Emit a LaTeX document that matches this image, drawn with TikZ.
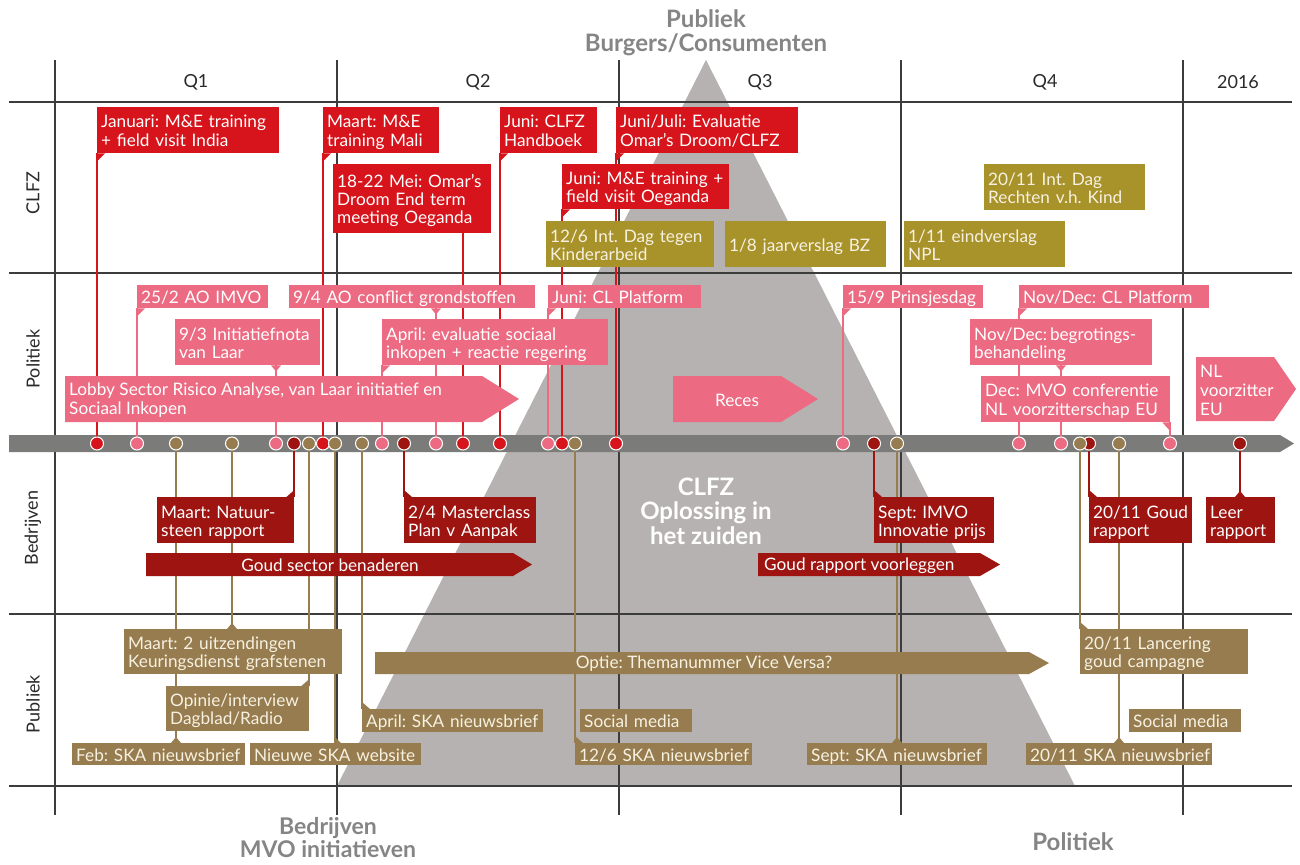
\documentclass[tikz,border=0pt]{standalone}
\usepackage{fontspec}
\setmainfont{Lato}
\usetikzlibrary{calc}
\frenchspacing
\definecolor{cR}{HTML}{D7141B}
\definecolor{cG}{HTML}{A8922A}
\definecolor{cP}{HTML}{EC6A82}
\definecolor{cD}{HTML}{9E1410}
\definecolor{cB}{HTML}{967C4E}
\definecolor{cBar}{HTML}{7B7B79}
\definecolor{cTri}{HTML}{B6B2B1}
\definecolor{cGrid}{HTML}{3C3C3C}
\definecolor{cTitle}{HTML}{858585}
\definecolor{cTxt}{HTML}{2A2A2A}
\definecolor{cCream}{HTML}{F7F1E2}
\pgfdeclarelayer{tri}\pgfdeclarelayer{gridl}\pgfdeclarelayer{conn}
\pgfsetlayers{tri,gridl,conn,main}
\tikzset{
 box/.style={anchor=north west, inner xsep=4pt, inner ysep=0pt, align=left, font=\fontsize{17.2}{18}\selectfont},
 fR/.style={fill=cR, text=white},
 fG/.style={fill=cG, text=cCream},
 fP/.style={fill=cP, text=white},
 fD/.style={fill=cD, text=white},
 fB/.style={fill=cB, text=cCream},
 mk/.style={circle, minimum size=13pt, inner sep=0pt, draw=white, line width=1pt},
 link/.style={line width=1.3pt},
 gridline/.style={cGrid, line width=1.3pt},
 head/.style={text=cTxt, font=\fontsize{18}{20}\selectfont},
 title/.style={text=cTitle, font=\bfseries\fontsize{24}{24}\selectfont, align=center, inner sep=0pt},
 arrowtxt/.style={font=\fontsize{17.2}{19}\selectfont, align=left, inner sep=0pt},
}
\newcommand\bx[7]{\pgfmathsetmacro\mytw{#5-8}\node[box, #2, minimum width=#5pt, minimum height=#6pt, text width=\mytw pt] (#1) at (#3,#4) {\raisebox{-3.2pt}[\height][\depth]{\begin{tabular}{@{}l@{}}#7\end{tabular}}};}
\begin{document}
\begin{tikzpicture}[x=1pt,y=-1pt]
\useasboundingbox (0,0) rectangle (1300,864);
\begin{pgfonlayer}{tri}
\fill[white] (0,0) rectangle (1300,864);
\fill[cTri] (706,60) -- (1075,786) -- (337,786) -- cycle;
\end{pgfonlayer}
\begin{pgfonlayer}{gridl}
\foreach \x in {55,337,619,901,1183} \draw[gridline] (\x,60) -- (\x,815);
\foreach \y in {102,273,614,786} \draw[gridline] (9,\y) -- (1292,\y);
\end{pgfonlayer}

% titles and headers
\node[title] (tTop) at (706,33) {Publiek\\Burgers/Consumenten};
\node[title, font=\bfseries\fontsize{23}{23}\selectfont] (tBed) at (328,838) {Bedrijven\\MVO initiatieven};
\node[title] (tPol) at (1073,842) {Politiek};
\node[title, text=white, font=\bfseries\fontsize{24}{24.5}\selectfont] (tMid) at (706,511) {CLFZ\\Oplossing in\\het zuiden};
\node[head] (q1) at (196,82) {Q1};
\node[head] (q2) at (478,82) {Q2};
\node[head] (q3) at (760,82) {Q3};
\node[head] (q4) at (1045,82) {Q4};
\node[head] (q5) at (1238,82) {2016};
\node[head, rotate=90] (rC) at (33,193) {CLFZ};
\node[head, rotate=90] (rP) at (33,359) {Politiek};
\node[head, rotate=90] (rB) at (33,528) {Bedrijven};
\node[head, rotate=90] (rU) at (33,704) {Publiek};

% CLFZ
\bx{jan}{fR}{97}{107}{182}{46}{Januari: M\&E training\\+ field visit India}
\bx{maa}{fR}{323}{107}{116}{46}{Maart: M\&E\\training Mali}
\bx{mei}{fR}{333}{164}{158}{69}{18-22 Mei: Omar’s\\Droom End term\\meeting Oeganda}
\bx{jhb}{fR}{500}{107}{97}{46}{Juni: CLFZ\\Handboek}
\bx{jje}{fR}{616}{107}{182}{46}{Juni/Juli: Evaluatie\\Omar’s Droom/CLFZ}
\bx{jme}{fR}{562}{164}{167}{45}{Juni: M\&E training +\\field visit Oeganda}
\bx{g1}{fG}{546}{221}{168}{46}{12/6 Int. Dag tegen\\Kinderarbeid}
\bx{g2}{fG}{725}{221}{161}{46}{1/8 jaarverslag BZ}
\bx{g3}{fG}{904}{221}{161}{46}{1/11 eindverslag\\NPL}
\bx{g4}{fG}{984}{164}{161}{46}{20/11 Int. Dag\\Rechten v.h. Kind}

% Politiek
\fill[cP] (65,376) -- (482,376) -- (519,399) -- (482,422) -- (65,422) -- cycle;
\node[arrowtxt, text=white, anchor=west] (lobby) at (69,400) {Lobby Sector Risico Analyse, van Laar initiatief en\\Sociaal Inkopen};
\fill[cP] (673,376) -- (781,376) -- (818,399) -- (781,422) -- (673,422) -- cycle;
\node[arrowtxt, text=white] (reces) at (737,400) {Reces};
\fill[cP] (1196,357) -- (1274,357) -- (1296,389) -- (1274,421) -- (1196,421) -- cycle;
\node[arrowtxt, text=white, anchor=west] (nlv) at (1200,390) {NL\\voorzitter\\EU};
\bx{p1}{fP}{137}{285}{131}{23}{25/2 AO IMVO}
\bx{p2}{fP}{175}{319}{145}{46}{9/3 Initiatiefnota\\van Laar}
\bx{p3}{fP}{289}{285}{246}{23}{9/4 AO conflict grondstoffen}
\bx{p4}{fP}{382}{319}{226}{46}{April: evaluatie sociaal\\inkopen + reactie regering}
\bx{p5}{fP}{548}{285}{153}{23}{Juni: CL Platform}
\bx{p6}{fP}{843}{285}{140}{23}{15/9 Prinsjesdag}
\bx{p7}{fP}{1019}{285}{190}{23}{Nov/Dec: CL Platform}
\bx{p8}{fP}{970}{319}{182}{46}{Nov/Dec:\,begrotings-\\behandeling}
\bx{p9}{fP}{981}{376}{189}{46}{Dec: MVO conferentie\\NL voorzitterschap EU}

% Bedrijven
\fill[cD] (146,553) -- (513,553) -- (532,564.5) -- (513,576) -- (146,576) -- cycle;
\node[arrowtxt, text=white] (goud) at (330,565.5) {Goud sector benaderen};
\fill[cD] (758,553) -- (980,553) -- (1000,564.5) -- (980,576) -- (758,576) -- cycle;
\node[arrowtxt, text=white, anchor=west] (goudr) at (764,565.5) {Goud rapport voorleggen};
\bx{b1}{fD}{157}{497}{137}{46}{Maart: Natuur-\\steen rapport}
\bx{b2}{fD}{404}{497}{132}{46}{2/4 Masterclass\\Plan v Aanpak}
\bx{b3}{fD}{874}{497}{120}{46}{Sept: IMVO\\Innovatie prijs}
\bx{b4}{fD}{1089}{497}{103}{46}{20/11 Goud\\rapport}
\bx{b5}{fD}{1206}{497}{69}{46}{Leer\\rapport}

% Publiek
\fill[cB] (375,652) -- (1029,652) -- (1049,663) -- (1029,674) -- (375,674) -- cycle;
\node[arrowtxt, text=cCream] (optie) at (704,664) {Optie: Themanummer Vice Versa?};
\bx{u1}{fB}{124}{629}{218}{45}{Maart: 2 uitzendingen\\Keuringsdienst grafstenen}
\bx{u2}{fB}{166}{686}{143}{45}{Opinie/interview\\Dagblad/Radio}
\bx{u3}{fB}{72}{743}{173}{22}{Feb: SKA nieuwsbrief}
\bx{u4}{fB}{250}{743}{171}{22}{Nieuwe SKA website}
\bx{u5}{fB}{362}{709}{181}{23}{April: SKA nieuwsbrief}
\bx{u6}{fB}{580}{709}{112}{23}{Social media}
\bx{u7}{fB}{575}{743}{177}{22}{12/6 SKA nieuwsbrief}
\bx{u8}{fB}{807}{743}{180}{22}{Sept: SKA nieuwsbrief}
\bx{u9}{fB}{1080}{629}{168}{45}{20/11 Lancering\\goud campagne}
\bx{u10}{fB}{1129}{709}{112}{23}{Social media}
\bx{u11}{fB}{1026}{743}{186}{22}{20/11 SKA nieuwsbrief}

% markers
\foreach \n/\x in {mJan/97,mMaa/323,mMei/463,mJhb/500,mJme/562,mJje/616}
  \node[mk, fill=cR] (\n) at (\x,443.5) {};
\foreach \n/\x in {mP1/137,mP2/276,mP4/382,mP3/436,mP5/548,mP6/843,mP7/1019,mP8/1061,mP9/1170}
  \node[mk, fill=cP] (\n) at (\x,443.5) {};
\foreach \n/\x in {mB1/294,mB2/404,mB3/874,mB4/1089,mB5/1240}
  \node[mk, fill=cD] (\n) at (\x,443.5) {};
\foreach \n/\x in {mU3/176,mU1/232,mU2/309,mU4/335,mU5/362,mU7/575,mU8/897,mU9/1080,mU11/1119}
  \node[mk, fill=cB] (\n) at (\x,443.5) {};

\begin{pgfonlayer}{conn}
\fill[cBar] (9,435) -- (1280,435) -- (1294,443.5) -- (1280,452) -- (9,452) -- cycle;
% connectors
\foreach \m/\b in {mJan/jan,mMaa/maa,mMei/mei,mJhb/jhb,mJme/jme,mJje/jje}
  \draw[link, cR] (\m) -- (\m |- \b.south);
\foreach \m/\b in {mP1/p1,mP2/p2,mP3/p3,mP4/p4,mP5/p5,mP6/p6,mP7/p7,mP8/p8,mP9/p9}
  \draw[link, cP] (\m) -- (\m |- \b.south);
\foreach \m/\b in {mB1/b1,mB2/b2,mB3/b3,mB4/b4,mB5/b5}
  \draw[link, cD] (\m) -- (\m |- \b.north);
\foreach \m/\b in {mU1/u1,mU2/u2,mU3/u3,mU4/u4,mU5/u5,mU7/u7,mU8/u8,mU9/u9,mU11/u11}
  \draw[link, cB] (\m) -- (\m |- \b.north);
% notches
\foreach \b in {jan,maa,jhb,jje,jme}
  \fill[cR] (\b.south west) -- ++(0,8) -- ++(8,-8) -- cycle;
\foreach \b in {p1,p4,p5,p6,p7}
  \fill[cP] (\b.south west) -- ++(0,8) -- ++(8,-8) -- cycle;
\foreach \m/\b in {mP2/p2,mP3/p3,mP8/p8}
  \fill[cP] (\m |- \b.south) ++(-5,0) -- ++(5,6) -- ++(5,-6) -- cycle;
\fill[cP] (p9.south east) -- ++(0,9) -- ++(-8,-9) -- cycle;
\foreach \b in {b2,b3,b4}
  \fill[cD] (\b.north west) -- ++(0,-7) -- ++(8,7) -- cycle;
\fill[cD] (b1.north east) -- ++(0,-7) -- ++(-8,7) -- cycle;
\fill[cD] (mB5 |- b5.north) ++(-5,0) -- ++(5,-6) -- ++(5,6) -- cycle;
\foreach \b in {u5,u7,u9}
  \fill[cB] (\b.north west) -- ++(0,-7) -- ++(8,7) -- cycle;
\fill[cB] (mU4 |- u4.north) -- ++(0,-6) -- ++(6,6) -- cycle;
\fill[cB] (u2.north east) -- ++(0,-7) -- ++(-8,7) -- cycle;
\foreach \m/\b in {mU1/u1,mU3/u3,mU8/u8,mU11/u11}
  \fill[cB] (\m |- \b.north) ++(-5,0) -- ++(5,-6) -- ++(5,6) -- cycle;
\end{pgfonlayer}
\end{tikzpicture}
\end{document}
